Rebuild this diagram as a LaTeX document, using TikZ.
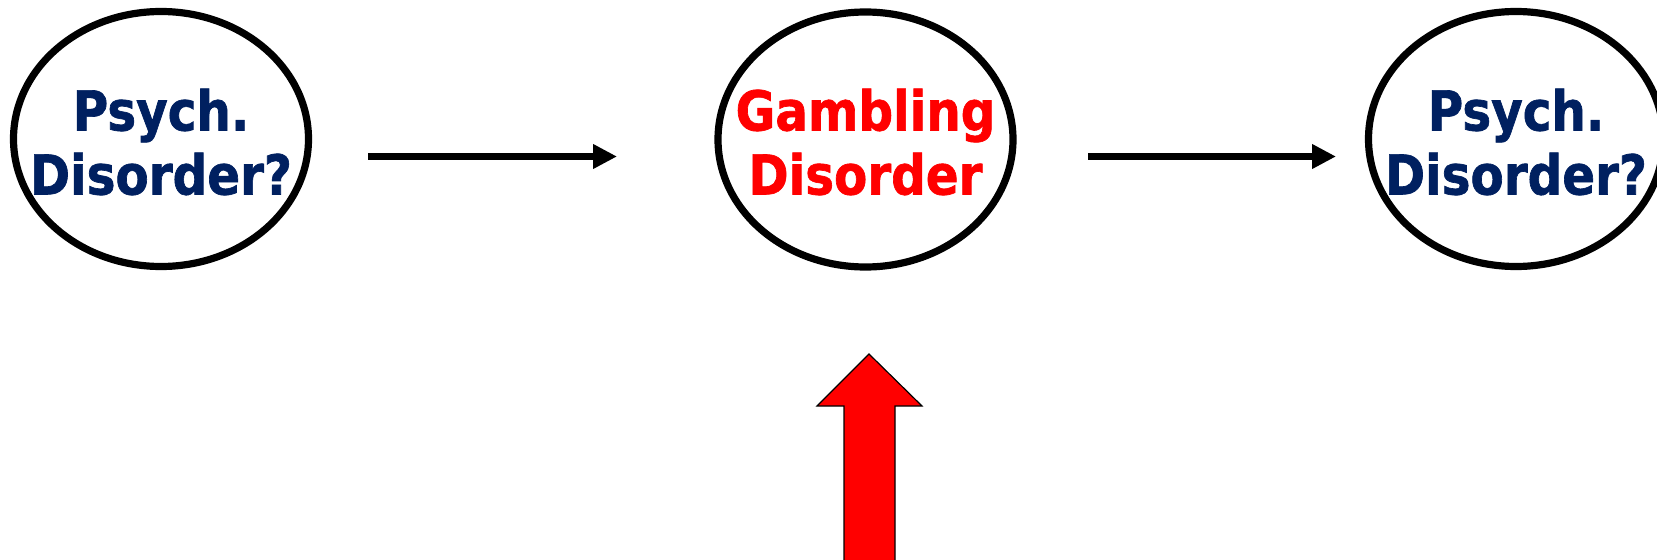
\documentclass[tikz,border=0pt]{standalone}
\usepackage{fontspec}
\newfontfamily\labfont[FakeStretch=0.88,FakeBold=1.2]{DejaVu Sans}
\usetikzlibrary{arrows.meta,shapes.geometric}
\definecolor{navy}{HTML}{002060}
\definecolor{gdred}{HTML}{FF0000}
\begin{document}
\begin{tikzpicture}[x=0.75pt,y=-0.75pt,
  bubble/.style={draw=black, line width=5.4pt, ellipse, inner sep=0pt,
    minimum width=221.25pt, minimum height=191.25pt},
  lab/.style={inner sep=0pt, align=center,
    font=\labfont\bfseries\fontsize{41.25pt}{48pt}\selectfont},
  flow/.style={draw=black, line width=5.25pt,
    -{Triangle[length=18pt,width=17.5pt]}},
  bigarrow/.style={fill=gdred, draw=black, line width=0.9pt}]
\useasboundingbox (0,0) rectangle (1657,560);
\clip (0,0) rectangle (1657,560);
\node[bubble] (e1) at (161,139) {};
\node[bubble] (e2) at (865.5,139.5) {};
\node[bubble] (e3) at (1516,139) {};
\node[lab, text=navy] (t1) at (161,142) {Psych.\\Disorder?};
\node[lab, text=gdred] (t2) at (865.5,142) {Gambling\\Disorder};
\node[lab, text=navy] (t3) at (1516,142) {Psych.\\Disorder?};
\coordinate (a1s) at (368,156.5);
\coordinate (a1e) at (617,156.5);
\coordinate (a2s) at (1088,156.5);
\coordinate (a2e) at (1336,156.5);
\draw[flow] (a1s) -- (a1e);
\draw[flow] (a2s) -- (a2e);
\draw[bigarrow] (869,354) -- (922,406) -- (895,406) -- (895,566) -- (844,566) -- (844,406) -- (817,406) -- cycle;
\end{tikzpicture}
\end{document}
